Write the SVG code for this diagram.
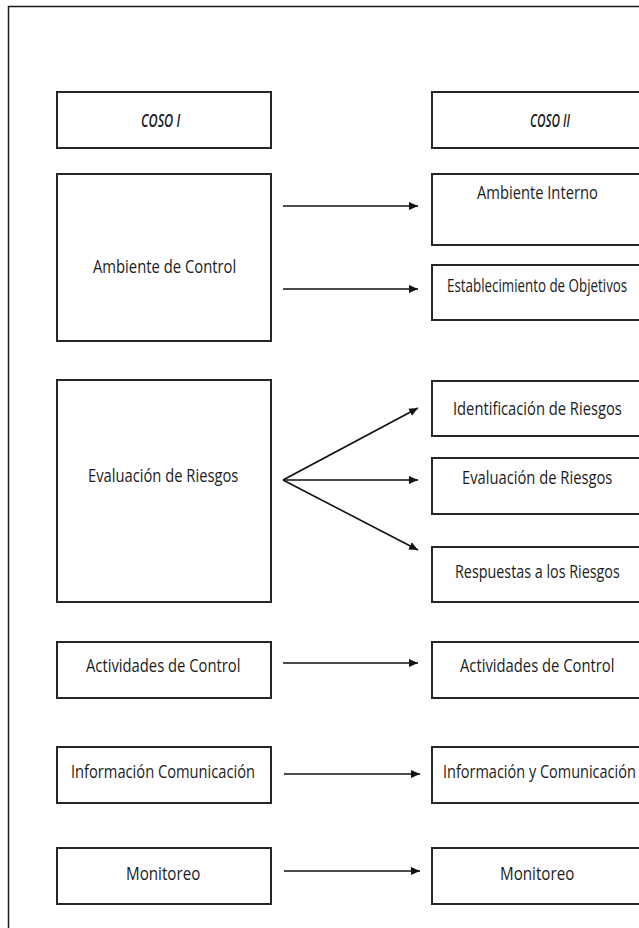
<svg xmlns="http://www.w3.org/2000/svg" width="639" height="928" viewBox="0 0 639 928">
  <style>
    .frame { fill: #ffffff; stroke: #1a1a1a; stroke-width: 1.5; }
    .box { fill: #ffffff; stroke: #262626; stroke-width: 2; }
    .lbl { font-family: "Open Sans", "Liberation Sans", sans-serif; font-size: 18px; fill: #1c1c1c; text-anchor: start; }
    .hdr { font-style: italic; font-weight: 600; }
    .link { stroke: #111111; stroke-width: 1.6; fill: none; marker-end: url(#head); }
  </style>
  <defs>
    <marker id="head" markerUnits="userSpaceOnUse" markerWidth="10" markerHeight="10" refX="9" refY="5" orient="auto">
      <path d="M0,1 L9,5 L0,9 Z" fill="#111111"/>
    </marker>
  </defs>

  <rect width="639" height="928" fill="#ffffff"/>
  <!-- outer frame, running past the right and bottom edges -->
  <rect class="frame" x="8.5" y="6.5" width="700" height="1000"/>

  <!-- labels use a condensed face: each is squeezed horizontally around its start point -->

  <!-- left column: COSO I -->
  <g id="coso1">
    <rect class="box" x="57" y="92" width="214" height="56"/>
    <text class="lbl hdr" transform="translate(141 127) scale(0.8 1)" textLength="49" lengthAdjust="spacingAndGlyphs">COSO I</text>
  </g>
  <g id="ambiente-control">
    <rect class="box" x="57" y="174" width="214" height="167"/>
    <text class="lbl" transform="translate(93 273) scale(0.8 1)" textLength="179" lengthAdjust="spacingAndGlyphs">Ambiente de Control</text>
  </g>
  <g id="evaluacion-1">
    <rect class="box" x="57" y="380" width="214" height="222"/>
    <text class="lbl" transform="translate(88 482) scale(0.8 1)" textLength="188" lengthAdjust="spacingAndGlyphs">Evaluación de Riesgos</text>
  </g>
  <g id="actividades-1">
    <rect class="box" x="57" y="642" width="214" height="56"/>
    <text class="lbl" transform="translate(86 672) scale(0.8 1)" textLength="193" lengthAdjust="spacingAndGlyphs">Actividades de Control</text>
  </g>
  <g id="informacion-1">
    <rect class="box" x="57" y="747" width="214" height="56"/>
    <text class="lbl" transform="translate(71 778) scale(0.8 1)" textLength="230" lengthAdjust="spacingAndGlyphs">Información Comunicación</text>
  </g>
  <g id="monitoreo-1">
    <rect class="box" x="57" y="848" width="214" height="56"/>
    <text class="lbl" transform="translate(126 880) scale(0.8 1)" textLength="93" lengthAdjust="spacingAndGlyphs">Monitoreo</text>
  </g>

  <!-- right column: COSO II -->
  <g id="coso2">
    <rect class="box" x="432" y="92" width="214" height="56"/>
    <text class="lbl hdr" transform="translate(530 127) scale(0.8 1)" textLength="50" lengthAdjust="spacingAndGlyphs">COSO II</text>
  </g>
  <g id="ambiente-interno">
    <rect class="box" x="432" y="174" width="214" height="71"/>
    <text class="lbl" transform="translate(477 199) scale(0.8 1)" textLength="151" lengthAdjust="spacingAndGlyphs">Ambiente Interno</text>
  </g>
  <g id="objetivos">
    <rect class="box" x="432" y="265" width="214" height="55"/>
    <text class="lbl" transform="translate(447 292) scale(0.68 1)" textLength="265" lengthAdjust="spacingAndGlyphs">Establecimiento de Objetivos</text>
  </g>
  <g id="identificacion">
    <rect class="box" x="432" y="381" width="214" height="55"/>
    <text class="lbl" transform="translate(453 415) scale(0.8 1)" textLength="211" lengthAdjust="spacingAndGlyphs">Identificación de Riesgos</text>
  </g>
  <g id="evaluacion-2">
    <rect class="box" x="432" y="458" width="214" height="56"/>
    <text class="lbl" transform="translate(462 484) scale(0.8 1)" textLength="188" lengthAdjust="spacingAndGlyphs">Evaluación de Riesgos</text>
  </g>
  <g id="respuestas">
    <rect class="box" x="432" y="547" width="214" height="55"/>
    <text class="lbl" transform="translate(455 578) scale(0.8 1)" textLength="206" lengthAdjust="spacingAndGlyphs">Respuestas a los Riesgos</text>
  </g>
  <g id="actividades-2">
    <rect class="box" x="432" y="642" width="214" height="56"/>
    <text class="lbl" transform="translate(460 672) scale(0.8 1)" textLength="193" lengthAdjust="spacingAndGlyphs">Actividades de Control</text>
  </g>
  <g id="informacion-2">
    <rect class="box" x="432" y="747" width="214" height="56"/>
    <text class="lbl" transform="translate(443 778) scale(0.8 1)" textLength="241" lengthAdjust="spacingAndGlyphs">Información y Comunicación</text>
  </g>
  <g id="monitoreo-2">
    <rect class="box" x="432" y="848" width="214" height="56"/>
    <text class="lbl" transform="translate(500 880) scale(0.8 1)" textLength="93" lengthAdjust="spacingAndGlyphs">Monitoreo</text>
  </g>

  <!-- connectors -->
  <g id="connectors">
    <line class="link" x1="283" y1="206" x2="418" y2="206"/>
    <line class="link" x1="283" y1="289" x2="418" y2="289"/>
    <line class="link" x1="283" y1="480" x2="418" y2="408"/>
    <line class="link" x1="283" y1="480" x2="418" y2="480"/>
    <line class="link" x1="283" y1="480" x2="418" y2="550"/>
    <line class="link" x1="283" y1="663" x2="418" y2="663"/>
    <line class="link" x1="284" y1="774" x2="420" y2="774"/>
    <line class="link" x1="284" y1="871" x2="420" y2="871"/>
  </g>
</svg>
